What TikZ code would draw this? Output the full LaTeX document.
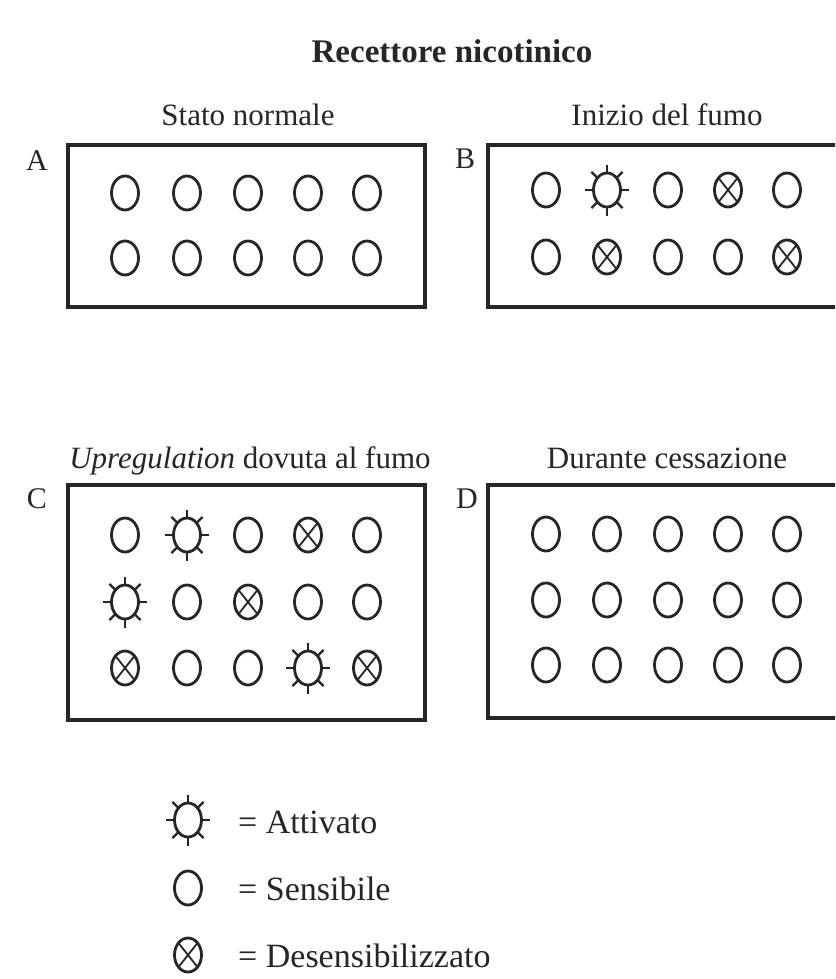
\documentclass[tikz,border=0pt]{standalone}
\usepackage{fontspec}
\setmainfont{Liberation Serif}
\definecolor{ink}{HTML}{262626}
\tikzset{
  x=1pt, y=-1pt,
  lbl/.style={anchor=base, inner sep=0pt, text=ink, font=\fontsize{31}{34}\selectfont},
  leg/.style={anchor=base west, inner sep=0pt, text=ink, font=\fontsize{34}{36}\selectfont},
  letter/.style={anchor=base, inner sep=0pt, text=ink, font=\fontsize{30}{32}\selectfont},
  boxline/.style={draw=ink, line width=3.2pt},
  sym/.style={draw=ink, line width=2.8pt},
  sens/.pic={\draw[sym] (0,0) ellipse [x radius=13.5, y radius=17];},
  des/.pic={\draw[sym] (0,0) ellipse [x radius=13.5, y radius=17];
            \draw[draw=ink, line width=1.8pt] (-9.5,-12) -- (9.5,12) (-9.5,12) -- (9.5,-12);},
  act/.pic={\draw[sym] (0,0) ellipse [x radius=13.5, y radius=17];
            \foreach \a in {0,45,...,315}
              \draw[draw=ink, line width=2.4pt] ({13.5*cos(\a)},{17*sin(\a)}) -- ({22*cos(\a)},{25.5*sin(\a)});},
}
\begin{document}
\begin{tikzpicture}
\useasboundingbox (0,0) rectangle (835,979);
\clip (0,0) rectangle (835,979);
\fill[white] (0,0) rectangle (835,979);

% title
\node[lbl, font=\fontsize{33}{36}\selectfont\bfseries] (title) at (452,63) {Recettore nicotinico};

% panel titles
\node[lbl] (tA) at (248,125) {Stato normale};
\node[lbl] (tB) at (667,125) {Inizio del fumo};
\node[lbl] (tC) at (250,468) {\textit{Upregulation} dovuta al fumo};
\node[lbl] (tD) at (667,468) {Durante cessazione};

% letters
\node[letter] (lA) at (37,170) {A};
\node[letter] (lB) at (465,168) {B};
\node[letter] (lC) at (37,508) {C};
\node[letter] (lD) at (467,508) {D};

% boxes
\draw[boxline] (68,145) rectangle (425,307);
\draw[boxline] (845,145) -- (488,145) -- (488,307) -- (845,307);
\draw[boxline] (68,485) rectangle (425,720);
\draw[boxline] (845,485) -- (488,485) -- (488,718) -- (845,718);

% panel A
\foreach \x in {125,187,248,308,367}
  \foreach \y in {193,258}
    \pic at (\x,\y) {sens};

% panel B
\pic at (546,190) {sens};
\pic at (607,190) {act};
\pic at (668,190) {sens};
\pic at (728,190) {des};
\pic at (787,190) {sens};
\pic at (546,257) {sens};
\pic at (607,257) {des};
\pic at (668,257) {sens};
\pic at (728,257) {sens};
\pic at (787,257) {des};

% panel C
\pic at (125,535) {sens};
\pic at (187,535) {act};
\pic at (248,535) {sens};
\pic at (308,535) {des};
\pic at (367,535) {sens};
\pic at (125,602) {act};
\pic at (187,602) {sens};
\pic at (248,602) {des};
\pic at (308,602) {sens};
\pic at (367,602) {sens};
\pic at (125,668) {des};
\pic at (187,668) {sens};
\pic at (248,668) {sens};
\pic at (308,668) {act};
\pic at (367,668) {des};

% panel D
\foreach \x in {546,607,668,728,787}
  \foreach \y in {534,600,665}
    \pic at (\x,\y) {sens};

% legend
\pic at (188,820) {act};
\pic at (188,888) {sens};
\pic at (188,955) {des};
\node[leg] (gA) at (238,833) {= Attivato};
\node[leg] (gS) at (238,900) {= Sensibile};
\node[leg] (gD) at (238,967) {= Desensibilizzato};
\end{tikzpicture}
\end{document}
